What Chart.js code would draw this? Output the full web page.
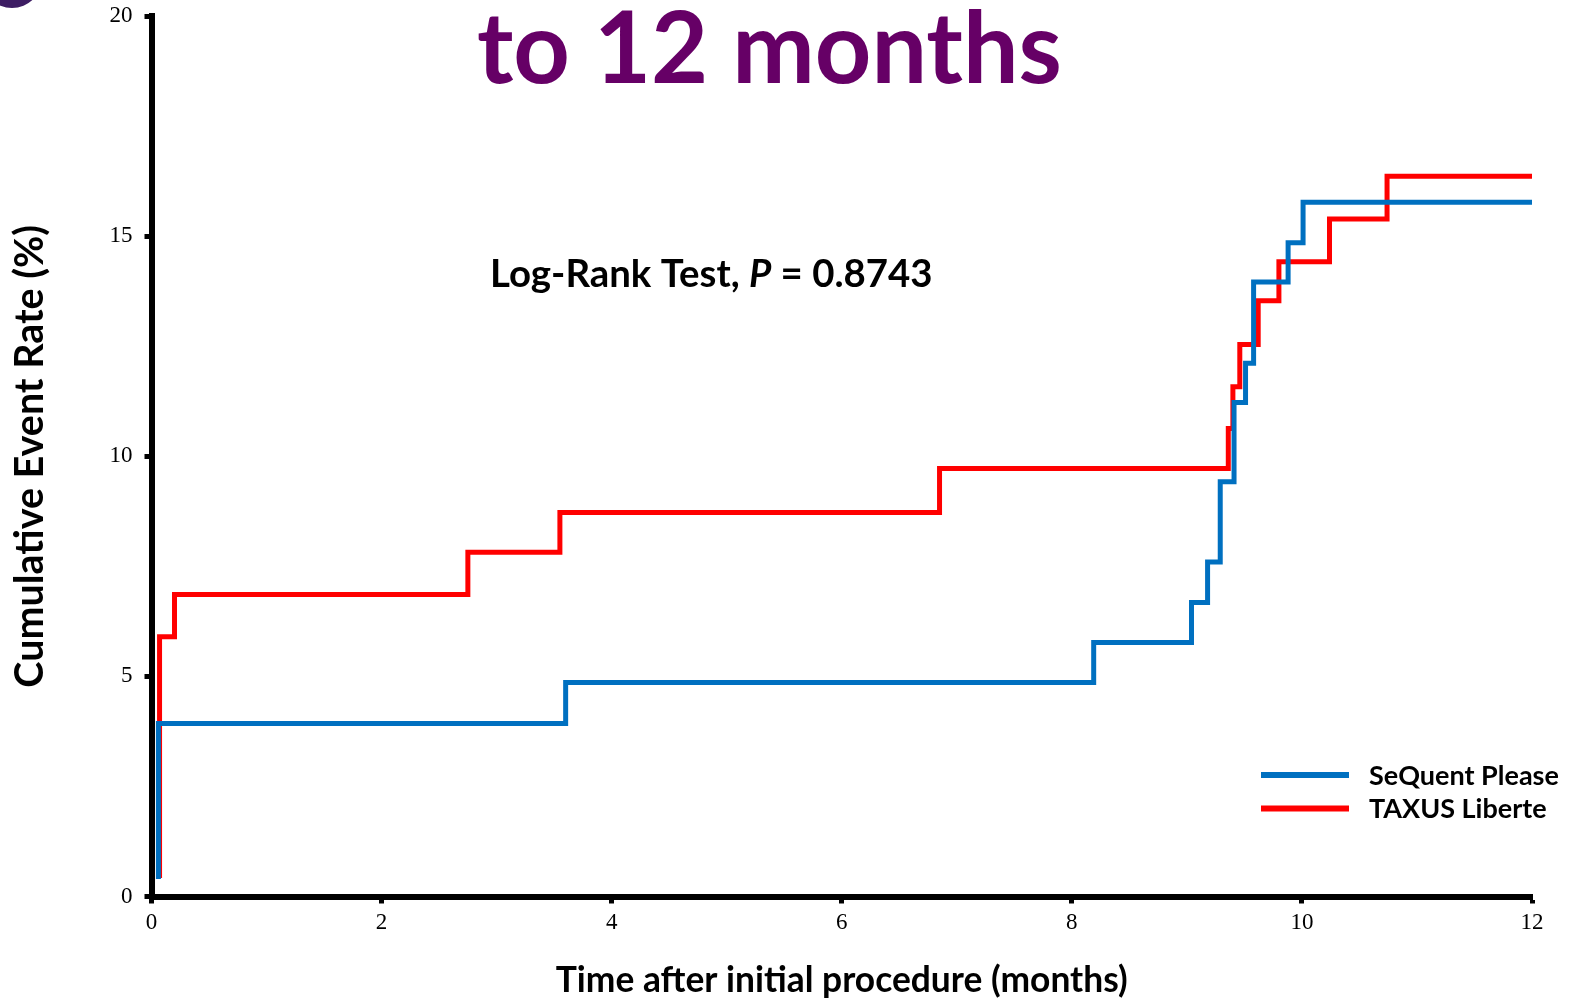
<!DOCTYPE html>
<html lang="en">
<head>
<meta charset="UTF-8">
<title>Cumulative event rate to 12 months</title>
<script src="https://cdn.jsdelivr.net/npm/chart.js"></script>
<style>
  html, body { margin: 0; padding: 0; background: #fff; }
</style>
</head>
<body>
<canvas id="myChart" width="1575" height="998"></canvas>
<script>
// step curves (time in months, cumulative event rate in %)
const sequentTime = [0.06, 0.06, 3.60, 8.19, 9.04, 9.18, 9.29, 9.41, 9.51, 9.58, 9.88, 10.01, 12.0];
const sequentRate = [0.40, 3.93, 4.86, 5.77, 6.68, 7.60, 9.42, 11.22, 12.11, 13.96, 14.85, 15.77, 15.82];
const taxusTime = [0.07, 0.07, 0.20, 2.75, 3.55, 6.85, 9.36, 9.40, 9.46, 9.62, 9.80, 10.24, 10.74, 12.0];
const taxusRate = [0.42, 5.90, 6.86, 7.82, 8.72, 9.72, 10.63, 11.58, 12.54, 13.53, 14.42, 15.39, 16.36, 16.40];

const seriesNames = ["SeQuent Please", "TAXUS Liberte"];
const seriesColors = ["#0070C0", "#FF0000"];

const xTicks = [0, 2, 4, 6, 8, 10, 12];
const yTicks = [0, 5, 10, 15, 20];

const titleText = "to 12 months";
const xTitle = "Time after initial procedure (months)";
const yTitle = "Cumulative Event Rate (%)";
const statText = ["Log-Rank Test, ", "P", " = 0.8743"];

const SANS = "Lato, 'Noto Sans', sans-serif";

// pick a font size so a string spans the width it has on the slide
const mctx = document.createElement("canvas").getContext("2d");
function fitSize(text, width, style) {
  mctx.font = (style || "bold") + " 100px " + SANS;
  return 100 * width / mctx.measureText(text).width;
}

const xTitleSize = fitSize(xTitle, 572);
const yTitleSize = fitSize(yTitle, 463);

function toPoints(xs, ys) {
  return xs.map((x, i) => ({ x: x, y: ys[i] }));
}

const slideText = {
  id: "slideText",
  afterDraw(chart) {
    const ctx = chart.ctx;
    ctx.save();

    // corner of a logo cut off by the crop
    ctx.fillStyle = "#3d1d63";
    ctx.beginPath();
    ctx.ellipse(12, -22, 30, 30, 0, 0, Math.PI * 2);
    ctx.fill();

    // slide heading (only its last line is in the picture)
    const tSize = fitSize(titleText, 585);
    ctx.font = "bold " + tSize + "px " + SANS;
    ctx.fillStyle = "#660066";
    ctx.textAlign = "left";
    ctx.textBaseline = "alphabetic";
    ctx.fillText(titleText, 477, 83);

    // log-rank annotation, P in italics
    const sSize = fitSize(statText.join(""), 444);
    let x = 490;
    ctx.fillStyle = "#000";
    statText.forEach((part, i) => {
      ctx.font = (i === 1 ? "italic bold " : "bold ") + sSize + "px " + SANS;
      ctx.fillText(part, x, 287);
      x += ctx.measureText(part).width;
    });

    // legend
    const lSize = fitSize(seriesNames[0], 190);
    ctx.font = "bold " + lSize + "px " + SANS;
    ctx.textBaseline = "middle";
    chart.data.datasets.forEach((ds, i) => {
      const y = 775 + i * 33.5;
      ctx.strokeStyle = ds.borderColor;
      ctx.lineWidth = 6;
      ctx.beginPath();
      ctx.moveTo(1261, y);
      ctx.lineTo(1349, y);
      ctx.stroke();
      ctx.fillStyle = "#000";
      ctx.fillText(ds.label, 1369, y + 1);
    });
    ctx.restore();
  }
};

const tickFont = { family: "'Liberation Serif', serif", size: 23 };

new Chart(document.getElementById("myChart"), {
  type: "line",
  data: {
    datasets: [
      {
        label: seriesNames[0],
        data: toPoints(sequentTime, sequentRate),
        borderColor: seriesColors[0],
        borderWidth: 5,
        stepped: true,
        pointRadius: 0,
        fill: false,
      },
      {
        label: seriesNames[1],
        data: toPoints(taxusTime, taxusRate),
        borderColor: seriesColors[1],
        borderWidth: 5,
        stepped: true,
        pointRadius: 0,
        fill: false,
      },
    ],
  },
  options: {
    responsive: false,
    animation: false,
    layout: { padding: { top: 16, right: 43, left: 0, bottom: 0 } },
    plugins: { legend: { display: false }, tooltip: { enabled: false } },
    scales: {
      x: {
        type: "linear",
        min: 0,
        max: 12,
        afterBuildTicks: (s) => { s.ticks = xTicks.map((v) => ({ value: v })); },
        afterFit: (s) => { s.height = 101.5; },
        ticks: { color: "#000", font: tickFont, padding: 6, maxRotation: 0 },
        grid: { drawOnChartArea: false, tickLength: 7, tickWidth: 5, tickColor: "#000" },
        border: { color: "#000", width: 6 },
        title: {
          display: true,
          text: xTitle,
          color: "#000",
          font: { family: SANS, weight: "bold", size: xTitleSize, lineHeight: 1.0 },
          padding: { top: 0, bottom: 0 },
        },
      },
      y: {
        type: "linear",
        min: 0,
        max: 20,
        afterBuildTicks: (s) => { s.ticks = yTicks.map((v) => ({ value: v })); },
        afterFit: (s) => {
          s.width = 151.5;
          s.paddingTop = 0;
          s.paddingBottom = 0;
        },
        ticks: { color: "#000", font: tickFont, padding: 12 },
        grid: { drawOnChartArea: false, tickLength: 7, tickWidth: 5, tickColor: "#000" },
        border: { color: "#000", width: 6 },
        title: {
          display: true,
          text: yTitle,
          color: "#000",
          font: { family: SANS, weight: "bold", size: yTitleSize },
          padding: { top: Math.max(0, 30 - 0.6 * yTitleSize), bottom: 0 },
        },
      },
    },
  },
  plugins: [slideText],
});
</script>
</body>
</html>
